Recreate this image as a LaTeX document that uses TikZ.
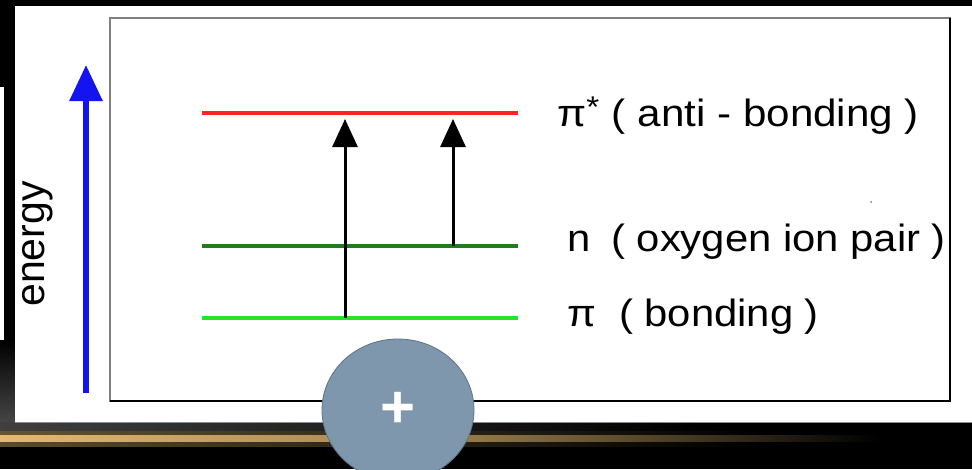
\documentclass[tikz,border=0pt]{standalone}
\usepackage{fontspec}
\setmainfont{Liberation Sans}
\usetikzlibrary{arrows.meta}
\definecolor{levred}{HTML}{FF2424}
\definecolor{levdkgreen}{HTML}{1F7D1F}
\definecolor{levgreen}{HTML}{22E622}
\definecolor{enblue}{HTML}{1414F0}
\definecolor{goldline}{HTML}{E2BA72}
\definecolor{btnfill}{HTML}{7F97AD}
\definecolor{btnedge}{HTML}{5E7286}
\begin{document}
\begin{tikzpicture}[x=1pt,y=-1pt,
  level/.style={line width=4pt},
  trans/.style={line width=3pt,-{Triangle[length=28pt,width=25pt]}},
  lbl/.style={anchor=base west,inner sep=0pt,font=\fontsize{38}{40}\selectfont},
]
\useasboundingbox (0,0) rectangle (972,469);
% background
\fill[black] (0,0) rectangle (972,469);
% bottom-left grey shading
\shade[top color=black,bottom color=black!72!white] (0,340) rectangle (15,425);
\shade[left color=black!75!white,right color=black] (0,422) rectangle (700,432);
% gold line with glow
\shade[left color=goldline!45!black,right color=black] (0,431) rectangle (760,435);
\shade[left color=goldline!40!black,right color=black] (0,441) rectangle (760,446);
\shade[left color=goldline,right color=black,middle color=goldline!70!black] (0,435) rectangle (880,441);
% left white strip
\fill[white] (0,87) rectangle (4,340);
% white panel
\fill[white] (15,6) rectangle (972,422);
\draw[black!45,line width=0.8pt] (15,422) -- (972,422);
% inner box
\coordinate (bTL) at (110,18);
\coordinate (bBR) at (950,401);
\draw[black!50,line width=1.2pt] (bTL) rectangle (bBR);
\draw[black,line width=1.6pt] (110,401) -- (bBR) -- (950,18);
% energy axis
\coordinate (eBot) at (86,393);
\coordinate (eTop) at (86,65);
\draw[enblue,line width=6pt,-{Triangle[length=36pt,width=32pt]}] (eBot) -- (eTop);
\node[rotate=90,inner sep=0pt,font=\fontsize{41}{43}\selectfont] (elabel) at (38,244) {energy};
% levels
\coordinate (pisL) at (202,113); \coordinate (pisR) at (518,113);
\coordinate (nL) at (202,246);   \coordinate (nR) at (518,246);
\coordinate (piL) at (202,318);  \coordinate (piR) at (518,318);
\draw[level,levred] (pisL) -- (pisR);
\draw[level,levdkgreen] (nL) -- (nR);
\draw[level,levgreen] (piL) -- (piR);
% transitions
\coordinate (a1s) at (345,318); \coordinate (a1e) at (345,119);
\coordinate (a2s) at (453,246); \coordinate (a2e) at (453,119);
\draw[trans] (a1s) -- (a1e);
\draw[trans] (a2s) -- (a2e);
% labels
\node[lbl] (lpis) at (557,126) {\scalebox{1.11}[1]{π\raisebox{0.22em}{\fontsize{30}{30}\selectfont *}\hspace{0.3em}( anti - bonding )}};
\node[lbl] (ln) at (567,251) {\scalebox{1.1}[1]{n\hspace{0.5em}( oxygen ion pair )}};
\node[lbl] (lpi) at (567,326) {\scalebox{1.1}[1]{π\hspace{0.55em}( bonding )}};
% stray dot
\fill[black!50] (871,202) circle (1pt);
% button
\coordinate (btnc) at (398,410);
\fill[btnfill,draw=btnedge,line width=0.8pt] (btnc) ellipse [x radius=76pt,y radius=71pt];
\node[inner sep=0pt,text=white,font=\fontsize{60}{60}\selectfont\bfseries] (plus) at (btnc) {+};
\end{tikzpicture}
\end{document}
